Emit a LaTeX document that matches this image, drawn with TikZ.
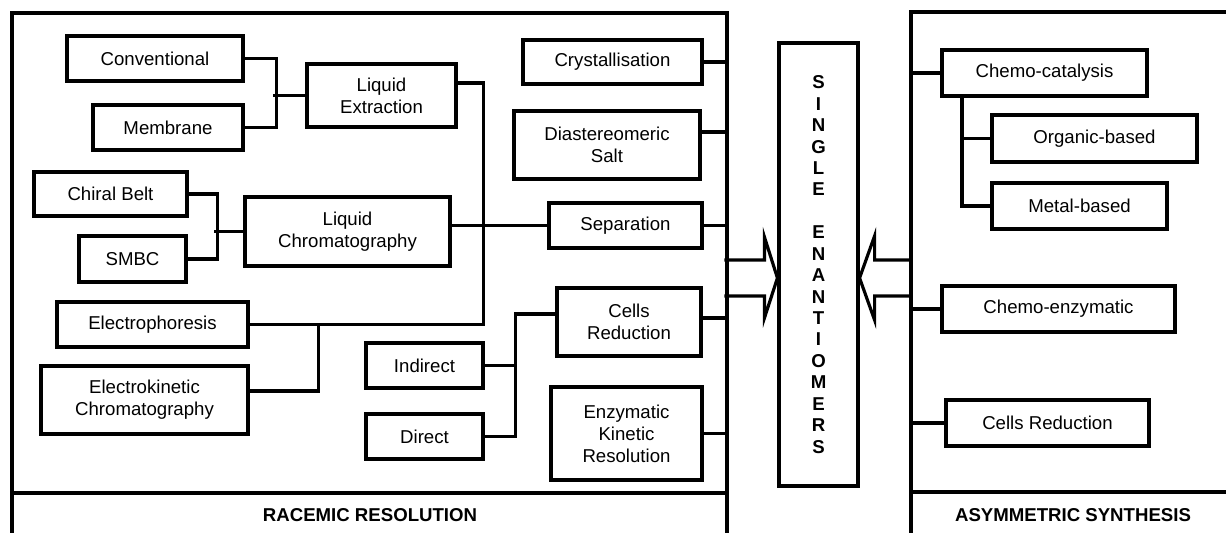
\documentclass[tikz,border=0pt]{standalone}
\usepackage{fontspec}
\setmainfont{Liberation Sans}
\usetikzlibrary{calc}

\begin{document}
\begin{tikzpicture}[x=0.02cm, y=-0.02cm, line width=1.8pt,
  box/.style={draw, align=center, inner sep=2pt, font=\fontsize{10.6}{12.6}\selectfont},
  paneltitle/.style={font=\fontsize{10.6}{12.6}\selectfont\bfseries}]
\useasboundingbox (0,0) rectangle (1226,533);
\clip (0,0) rectangle (1226,533);

% panels
\draw (12,545) -- (12,13) -- (727,13) -- (727,545);
\draw (12,493) -- (727,493);
\draw (911,545) -- (911,12) -- (1240,12);
\draw (911,492) -- (1240,492);
\coordinate (rr) at (727,0);
\coordinate (as) at (911,0);
\node[paneltitle] (rrtitle) at (370,515) {RACEMIC RESOLUTION};
\node[paneltitle] (astitle) at (1073,515) {ASYMMETRIC SYNTHESIS};

% racemic resolution
\node[box, minimum width=3.52cm, minimum height=0.90cm] (conv) at (155,58.5) {Conventional};
\node[box, minimum width=3.00cm, minimum height=0.90cm] (memb) at (168,127.5) {Membrane};
\node[box, minimum width=2.98cm, minimum height=1.26cm] (lext) at (381.5,95.5) {Liquid\\Extraction};
\node[box, minimum width=3.06cm, minimum height=0.88cm] (chiral) at (110.5,194) {Chiral Belt};
\node[box, minimum width=2.14cm, minimum height=0.92cm] (smbc) at (132.5,259) {SMBC};
\node[box, minimum width=4.10cm, minimum height=1.38cm] (lchrom) at (347.5,231.5) {Liquid\\Chromatography};
\node[box, minimum width=3.82cm, minimum height=0.90cm] (ephor) at (152.5,324.5) {Electrophoresis};
\node[box, minimum width=4.14cm, minimum height=1.36cm] (ekc) at (144.5,400) {Electrokinetic\\Chromatography};
\node[box, minimum width=3.58cm, minimum height=0.88cm] (cryst) at (612.5,62) {Crystallisation};
\node[box, minimum width=3.72cm, minimum height=1.36cm] (dsalt) at (607,145) {Diastereomeric\\Salt};
\node[box, minimum width=3.06cm, minimum height=0.90cm] (sep) at (625.5,225.5) {Separation};
\node[box, minimum width=2.88cm, minimum height=1.36cm] (cellsl) at (629,322) {Cells\\Reduction};
\node[box, minimum width=2.34cm, minimum height=0.90cm] (indir) at (424.5,365.5) {Indirect};
\node[box, minimum width=2.34cm, minimum height=0.90cm] (direct) at (424.5,436.5) {Direct};
\node[box, minimum width=3.02cm, minimum height=1.86cm] (ekr) at (626.5,433.5) {Enzymatic\\Kinetic\\Resolution};

% single enantiomers
\node[box, font=\fontsize{10.6}{12.2}\selectfont\bfseries, minimum width=1.58cm, minimum height=8.86cm] (se) at (818.5,264.5)
  {S\\I\\N\\G\\L\\E\\\mbox{}\\E\\N\\A\\N\\T\\I\\O\\M\\E\\R\\S};

% asymmetric synthesis
\node[box, minimum width=4.10cm, minimum height=0.92cm] (ccat) at (1044.5,73) {Chemo-catalysis};
\node[box, minimum width=4.10cm, minimum height=0.94cm] (org) at (1094.5,138.5) {Organic-based};
\node[box, minimum width=3.50cm, minimum height=0.92cm] (metal) at (1079.5,206) {Metal-based};
\node[box, minimum width=4.66cm, minimum height=0.92cm] (cenz) at (1058.5,309) {Chemo-enzymatic};
\node[box, minimum width=4.06cm, minimum height=0.92cm] (cellsr) at (1047.5,423) {Cells Reduction};

% connectors
\draw (conv.east) -- ++(32,0) |- (memb.east);
\draw (lext.west) -- ++(-32,0);
\draw (chiral.east) -- ++(29,0) |- (smbc.east);
\draw (lchrom.west) -- ++(-29,0);
\draw ([yshift=.25cm]lext.east) -| ($(ephor.east)+(234,0)$) -- (ephor.east);
\draw ([yshift=.18cm]ekc.east) -| ($(ephor.east)+(69,0)$);
\draw (lchrom.east |- sep.west) -- (sep.west);
\draw (indir.east) -- ++(31,0);
\draw (direct.east) -- ++(31,0) |- ([yshift=.16cm]cellsl.west);
\draw (cryst.east) -- (cryst.east -| rr);
\draw ([yshift=.26cm]dsalt.east) -- ([yshift=.26cm]dsalt.east -| rr);
\draw (sep.east) -- (sep.east -| rr);
\draw ([yshift=.08cm]cellsl.east) -- ([yshift=.08cm]cellsl.east -| rr);
\draw (ekr.east) -- (ekr.east -| rr);
\draw (ccat.west) -- (ccat.west -| as);
\draw (cenz.west) -- (cenz.west -| as);
\draw (cellsr.west) -- (cellsr.west -| as);
\draw ([xshift=-1.65cm]ccat.south) |- (metal.west);
\draw (org.west) -- ++(-30,0);

% block arrows
\coordinate (tipl) at (se.west |- 0,278);
\coordinate (tipr) at (se.east |- 0,278);
\draw ($(tipl)+(-53,-18)$) -- ++(40,0) -- ++(0,-23) -- (tipl) -- ++(-13,40) -- ++(0,-22) -- ++(-40,0);
\draw ($(tipr)+(53,-18)$) -- ++(-38,0) -- ++(0,-24) -- (tipr) -- ++(15,42) -- ++(0,-24) -- ++(38,0);
\end{tikzpicture}
\end{document}
